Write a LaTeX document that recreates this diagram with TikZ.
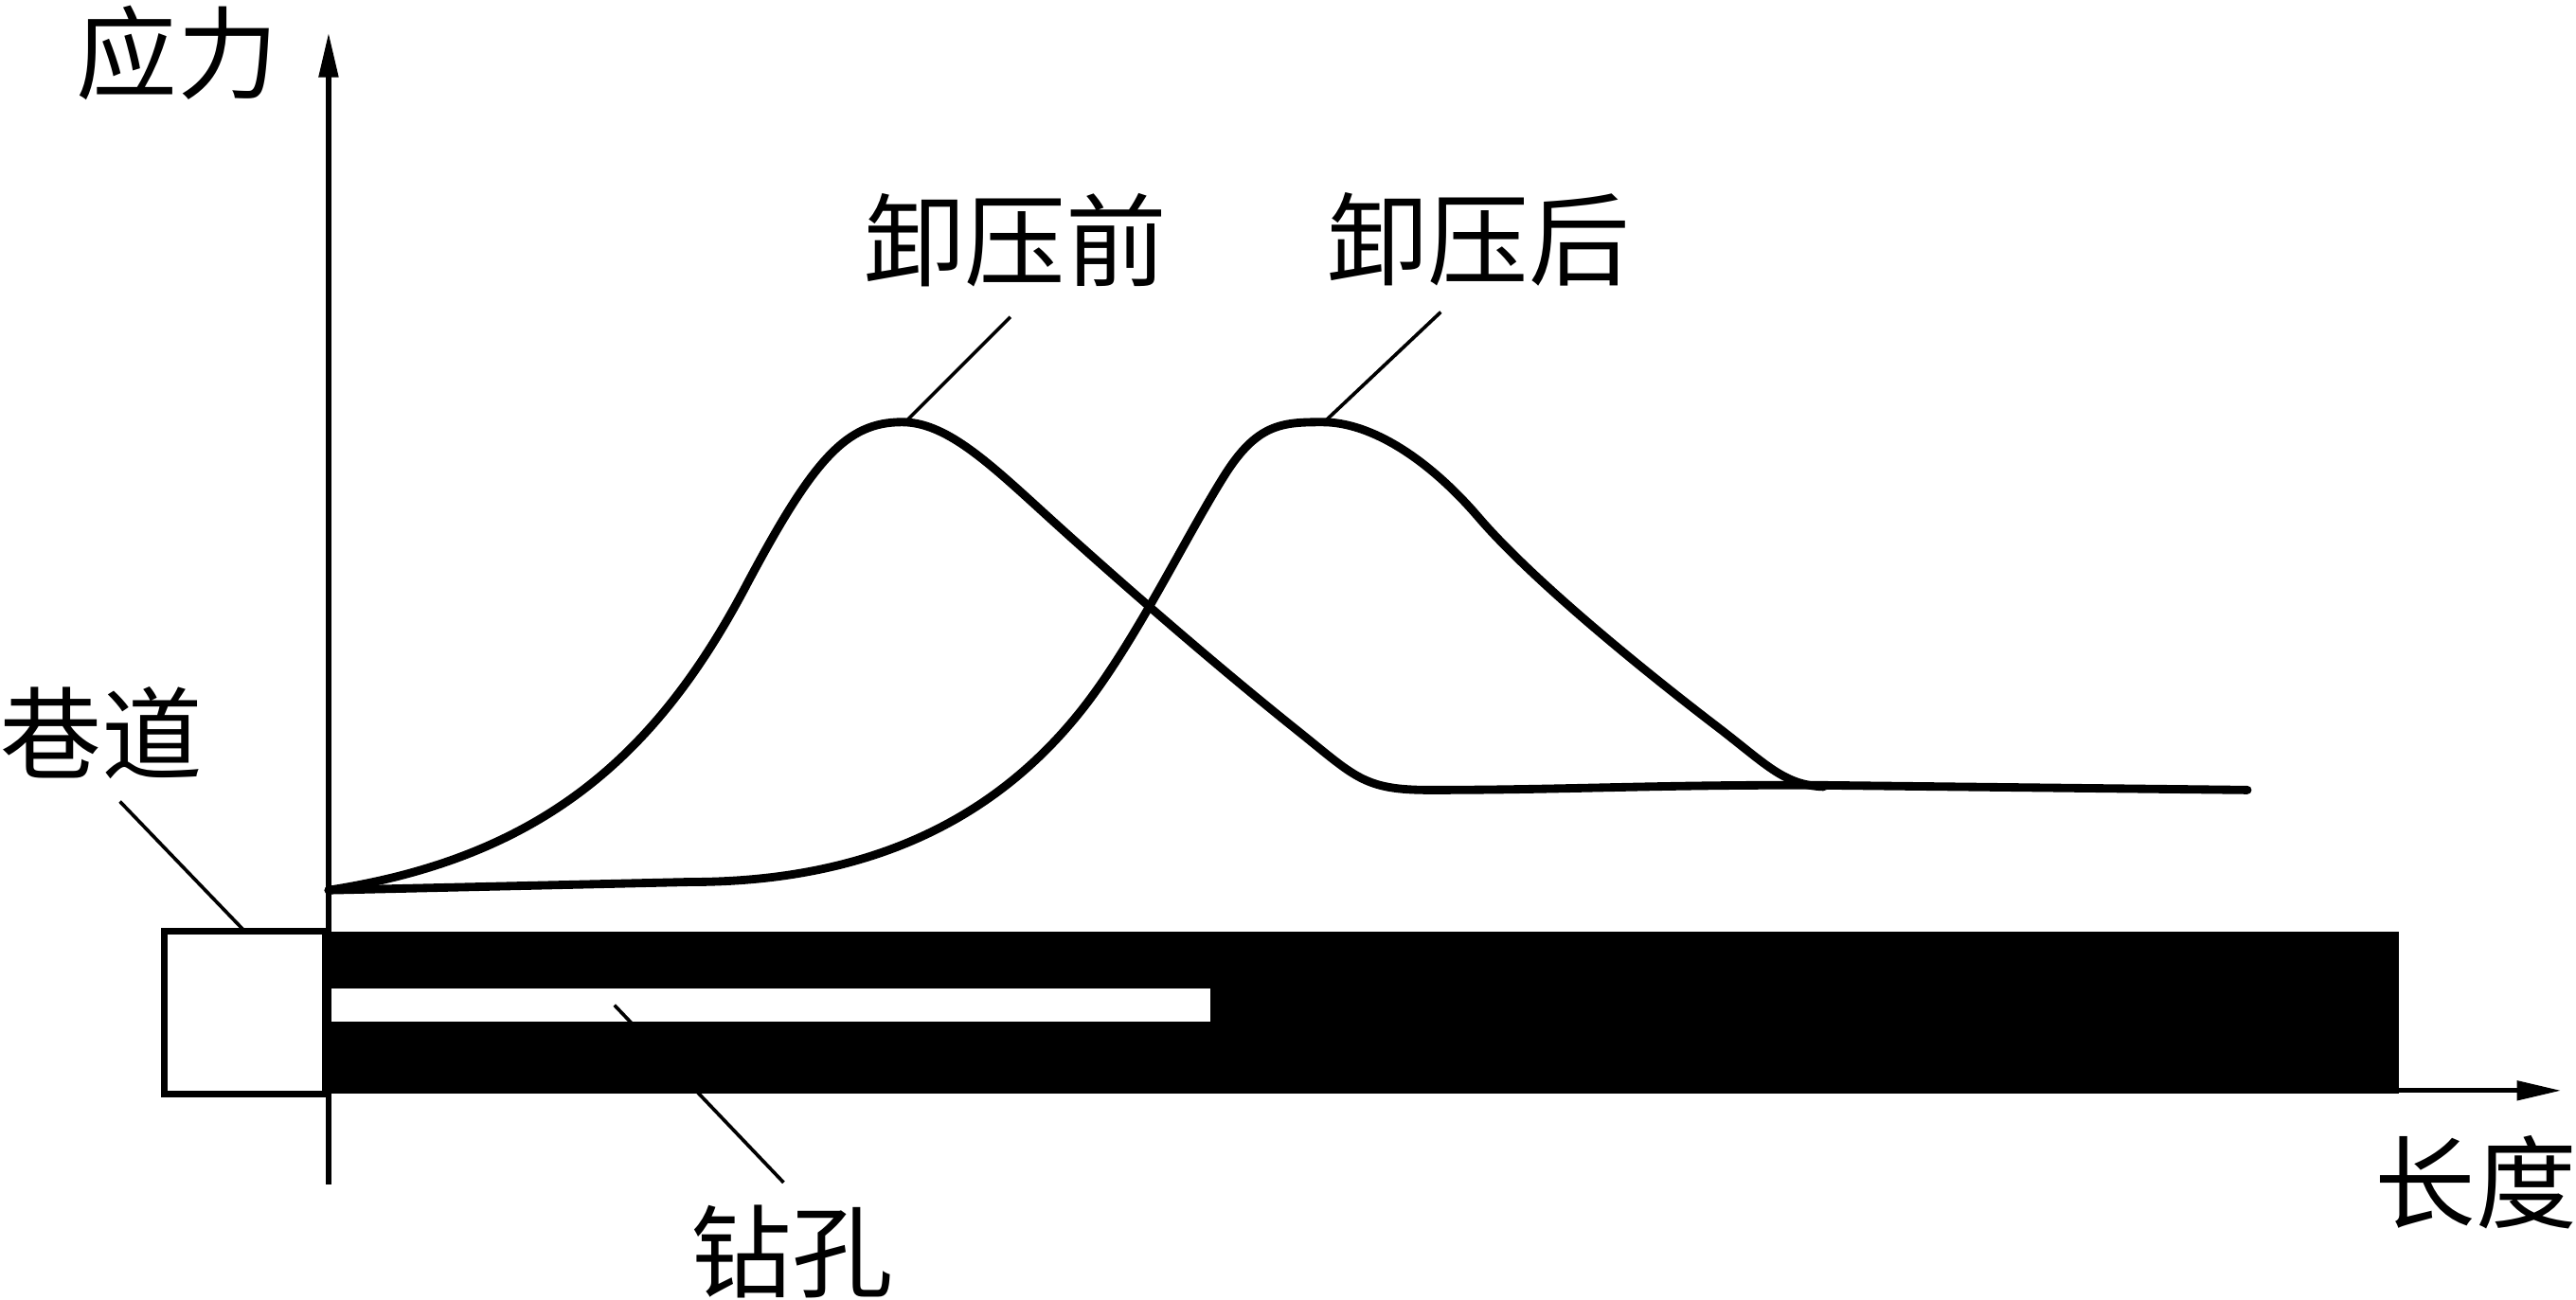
\documentclass[tikz,border=0pt]{standalone}
\usepackage{fontspec}
\newfontfamily\cjkfont{Noto Sans CJK SC}
\usetikzlibrary{arrows.meta}

\begin{document}
\begin{tikzpicture}[
    x=0.1mm, y=-0.1mm,
    lbl/.style={font=\cjkfont\fontsize{17.5pt}{20pt}\selectfont, inner sep=0pt},
    axis/.style={line width=0.85pt, -{Triangle[length=2.7mm, width=1.15mm]}},
    curve/.style={line width=1.45pt, line join=round, line cap=round},
    lead/.style={line width=0.6pt},
    box/.style={draw, line width=1.1pt, fill=white}
]
\useasboundingbox (0,0) rectangle (1568,791);

% Labels
\node[lbl] (stress) at (108, 32) {应力};
\node[lbl] (before) at (618, 146) {卸压前};
\node[lbl] (after) at (900, 146) {卸压后};
\node[lbl] (tunnel) at (62, 446) {巷道};
\node[lbl] (hole) at (482, 762) {钻孔};
\node[lbl] (length) at (1507, 720) {长度};

% Leader ends
\coordinate (beforeEnd) at (615, 193);
\coordinate (afterEnd) at (877, 190);
\coordinate (tunnelEnd) at (73, 488);
\coordinate (holeEnd) at (477, 720);
\coordinate (beforePeak) at (551, 257);
\coordinate (afterPeak) at (806, 257);
\coordinate (tunnelTop) at (149, 567);
\coordinate (holeIn) at (374, 612);

% Coal body with drill hole
\fill (197, 567) rectangle (1460, 666);
\fill[white] (201, 602) rectangle (737, 622);
\draw[box] (100, 567) rectangle (198, 666);

% Axes
\draw[axis] (200, 721) -- (200, 20);
\draw[axis] (197, 664) -- (1559, 664);

% Stress before unloading
\draw[curve] (200,542) .. controls (330,522) and (400,460) .. (455,355)
    .. controls (495,280) and (515,257) .. (549,257)
    .. controls (575,257) and (600,280) .. (634,311)
    .. controls (680,353) and (740,405) .. (790,445)
    .. controls (825,473) and (830,481) .. (870,481)
    .. controls (950,481) and (1000,478) .. (1100,478) -- (1368,481);

% Stress after unloading
\draw[curve] (200,542) -- (420,537)
    .. controls (520,537) and (600,505) .. (657,434)
    .. controls (690,393) and (720,330) .. (745,290)
    .. controls (765,258) and (780,257) .. (805,257)
    .. controls (835,257) and (870,280) .. (900,315)
    .. controls (930,350) and (990,400) .. (1042,440)
    .. controls (1075,465) and (1085,478) .. (1110,479);

% Leaders
\draw[lead] (beforePeak) -- (beforeEnd);
\draw[lead] (afterPeak) -- (afterEnd);
\draw[lead] (tunnelTop) -- (tunnelEnd);
\draw[lead] (holeIn) -- (holeEnd);

\end{tikzpicture}
\end{document}
